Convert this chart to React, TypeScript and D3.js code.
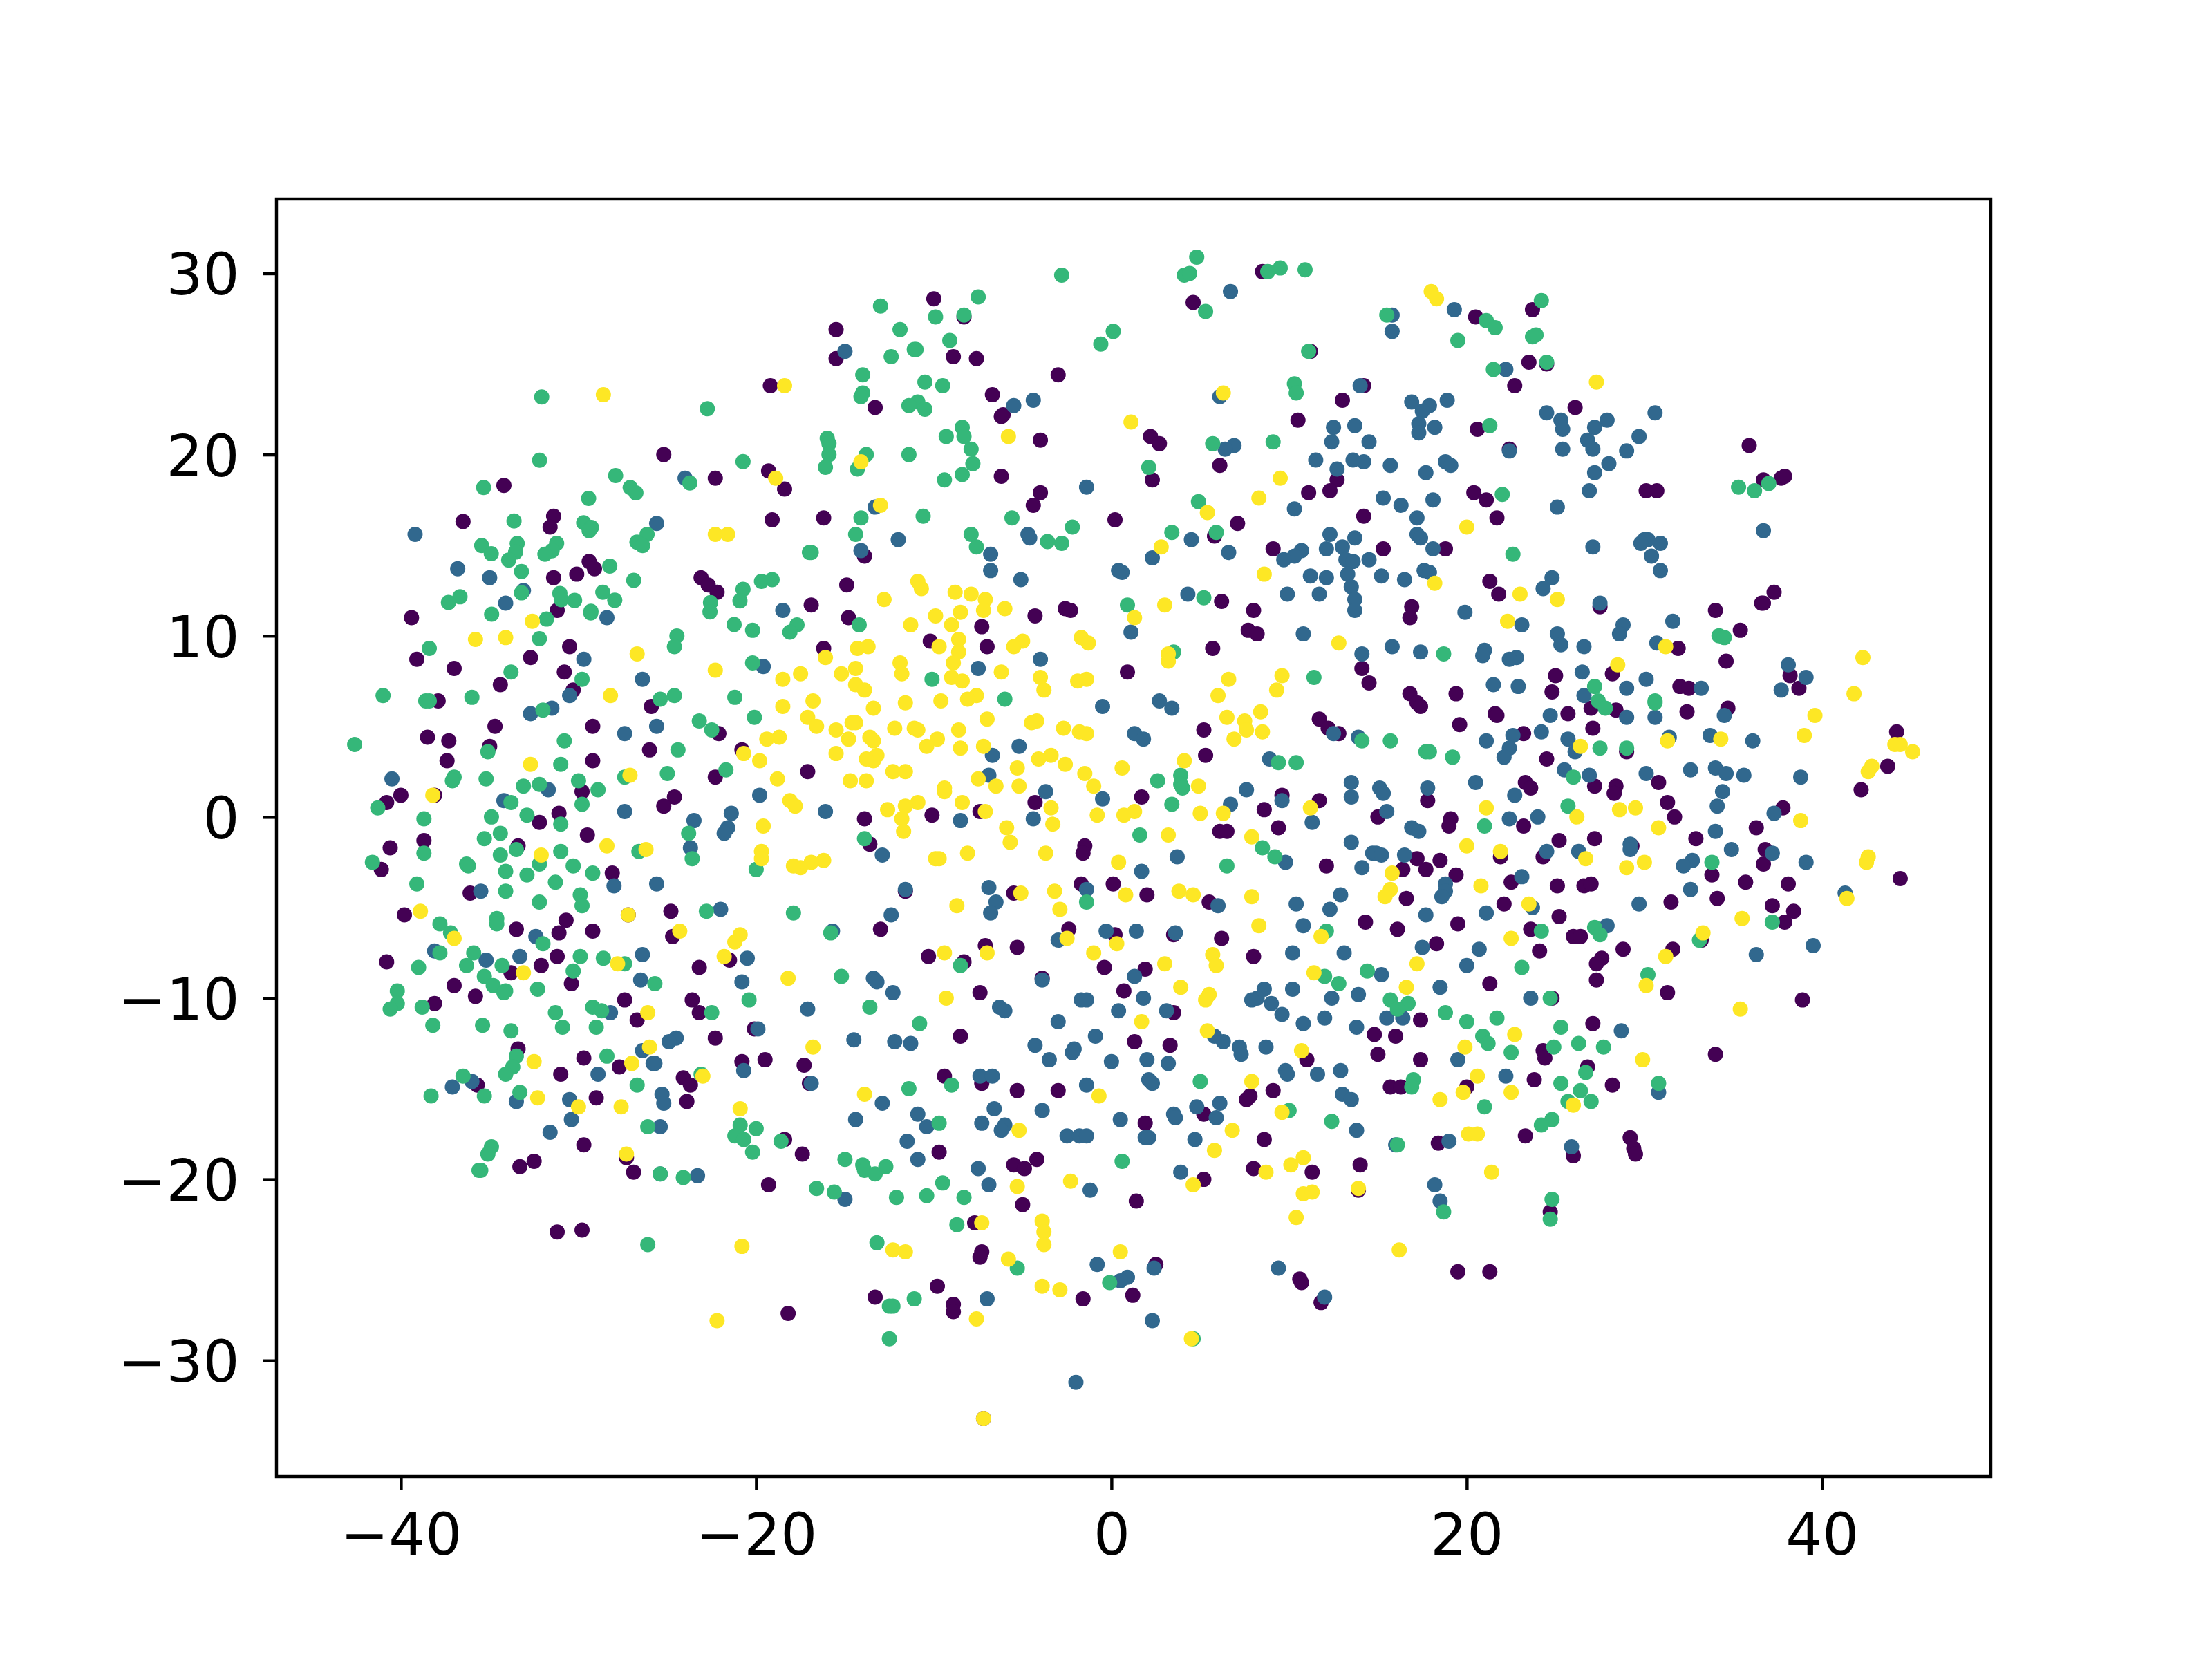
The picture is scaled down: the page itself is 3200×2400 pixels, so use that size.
import React, { useRef, useEffect } from "react";
import * as d3 from "d3";

// class 0 as [x, y]
const purplePoints = [
  [-34.2,18.3],[-25.2,20.0],[-22.3,18.7],[-36.5,16.3],[-31.4,16.6],[-31.6,16.0],[-29.4,14.1],[-29.1,13.7],[-31.4,13.2],[-30.1,13.4],[-23.1,13.2],[-22.7,12.8],[-22.2,12.4],[-31.2,11.4],[-39.4,11.0],
  [-10.0,28.6],[-8.3,27.6],[-15.5,26.9],[-15.5,25.3],[-8.9,25.4],[-7.6,25.3],[-19.2,23.8],[-3.0,24.4],[-13.3,22.6],[-6.7,23.3],[-6.2,22.1],[-6.1,22.2],[-4.0,20.8],[2.2,21.0],[2.7,20.6],[-19.3,19.1],[-18.4,18.1],[-6.2,18.8],[2.3,18.6],[-4.0,17.9],[-4.4,17.2],[-19.1,16.4],[-16.2,16.5],[0.2,16.4],[-13.9,14.4],[-14.9,12.8],[-16.9,11.7],[-14.8,11.0],[-7.3,10.5],[-4.3,11.1],[-2.6,11.5],[-2.3,11.4],[-10.2,9.7],
  [8.5,30.1],[4.6,28.4],[20.5,27.6],[23.7,28.0],[11.2,25.7],[23.5,25.1],[24.5,25.0],[22.7,23.8],[14.2,23.8],[13.0,23.0],[10.5,21.9],[20.6,21.4],[26.1,22.6],[22.4,20.3],[6.1,19.4],[12.7,18.6],[11.1,17.9],[12.3,18.0],[20.4,17.9],[21.1,17.5],[14.2,16.6],[21.7,16.5],[7.1,16.2],[5.8,15.5],[9.1,14.8],[15.3,14.8],[18.8,14.8],[21.3,13.0],[21.8,12.3],[6.2,11.9],[8.0,11.4],[16.9,11.6],[16.8,11.0],[7.7,10.3],[8.2,10.1],
  [35.9,20.5],[36.7,18.6],[37.7,18.7],[37.9,18.8],[30.1,18.0],[30.7,18.0],[37.3,12.4],[36.6,11.8],[36.7,11.8],[34.0,11.4],[27.5,11.6],[35.4,10.3],
  [-39.1,8.7],[-32.7,8.8],[-30.5,9.4],[-37.0,8.2],[-30.8,8.0],[-34.4,7.3],[-30.3,7.0],[-37.9,6.4],[-25.9,6.1],[-34.7,5.0],[-29.2,5.0],[-22.1,4.6],[-38.5,4.4],[-37.3,4.2],[-35.0,3.9],[-26.0,3.7],[-20.8,3.7],[-37.4,3.1],[-29.2,3.1],[-22.3,2.2],[-29.8,1.4],[-40.0,1.2],[-40.8,0.8],[-38.1,1.2],[-24.6,1.1],[-25.2,0.6],[-31.1,0.2],[-32.2,-0.3],[-29.5,-1.0],[-33.4,-1.6],[-38.7,-1.3],[-40.6,-1.7],[-41.1,-2.9],[-28.1,-3.1],[-36.1,-4.2],[-39.8,-5.4],[-24.8,-5.2],[-27.2,-5.4],[-30.7,-5.7],[-31.1,-6.4],[-33.5,-6.2],[-29.2,-6.3],[-24.7,-6.6],[-40.8,-8.0],[-31.2,-7.7],[-32.1,-8.2],[-33.8,-8.6],[-23.2,-8.3],[-21.5,-7.9],[-37.0,-9.3],[-30.4,-9.2],[-35.8,-9.9],[-38.1,-10.3],[-27.4,-10.1],[-23.6,-10.1],[-23.2,-10.8],[-26.7,-11.2],[-22.3,-12.2],[-33.4,-12.8],[-29.7,-13.3],
  [-16.2,9.3],[-7.0,9.4],[0.9,8.0],[-17.1,2.5],[1.7,1.1],[-4.3,0.8],[-10.1,0.1],[-7.4,0.3],[-13.9,-0.1],[-13.6,-1.5],[-1.5,-1.6],[-1.6,-2.0],[0.1,-3.7],[-1.7,-3.7],[2.0,-4.3],[-11.6,-4.1],[-5.5,-4.2],[-13.0,-6.2],[-2.4,-6.2],[0.2,-6.5],[-7.1,-7.1],[-5.3,-7.2],[-10.3,-7.7],[-8.3,-8.0],[-0.4,-8.3],[1.9,-8.4],[-3.9,-8.9],[-7.4,-9.7],[0.7,-9.6],[-20.1,-11.7],[-8.5,-12.1],[1.3,-12.4],
  [5.7,9.3],[14.1,8.2],[14.5,7.4],[19.4,6.8],[16.8,6.8],[17.2,6.3],[17.4,6.1],[25.0,7.8],[24.8,6.9],[21.6,5.7],[21.7,5.6],[25.7,5.7],[19.6,5.1],[5.2,4.8],[11.7,5.4],[12.2,4.9],[12.8,4.6],[23.2,4.6],[5.3,3.4],[24.5,3.2],[23.3,1.9],[23.6,1.6],[9.6,1.2],[11.7,0.9],[17.8,0.9],[8.6,0.4],[15.0,0.0],[19.1,-0.1],[19.0,-0.5],[9.4,-0.6],[6.1,-0.8],[6.5,-0.8],[23.2,-0.5],[25.2,-1.3],[24.3,-2.2],[21.9,-2.2],[12.1,-2.7],[17.2,-2.3],[18.5,-2.4],[16.4,-2.9],[17.7,-2.9],[19.4,-3.2],[22.5,-3.6],[25.1,-3.8],[16.6,-4.5],[5.5,-4.7],[22.1,-4.8],[25.2,-5.5],[19.5,-5.9],[14.3,-5.8],[16.1,-6.2],[23.6,-6.2],[26.0,-6.6],[3.5,-6.5],[6.2,-6.7],[18.3,-7.0],[24.1,-7.4],[8.0,-7.7],[21.3,-9.2],[24.8,-10.0],[3.5,-10.8],[17.4,-11.2],[14.8,-12.0],[16.0,-12.1],[3.3,-12.6],[24.3,-12.9],[15.0,-13.1],
  [31.9,9.3],[34.6,8.6],[28.2,7.9],[32.0,7.2],[32.5,7.1],[38.2,7.8],[38.7,7.1],[27.0,6.0],[28.4,5.9],[34.7,6.0],[32.4,5.8],[27.1,4.9],[29.0,3.6],[30.8,1.9],[27.2,1.7],[28.4,1.7],[28.3,1.3],[44.2,4.7],[43.7,2.8],[42.2,1.5],[31.3,0.8],[31.7,0.0],[37.8,0.5],[36.3,-0.6],[27.2,-1.2],[32.9,-1.2],[29.3,-1.6],[36.8,-1.8],[36.7,-2.6],[33.8,-3.2],[35.7,-3.6],[38.1,-3.7],[26.6,-3.8],[27.0,-3.7],[31.5,-4.7],[34.1,-4.5],[37.2,-4.9],[38.4,-5.2],[37.9,-5.8],[26.4,-6.6],[44.4,-3.4],[28.8,-7.3],[31.6,-7.3],[27.6,-7.8],[27.3,-8.1],[33.2,-6.8],[27.3,-9.0],[31.3,-9.7],[38.9,-10.1],[27.1,-11.4],[34.0,-13.1],
  [-31.0,-14.2],[-27.7,-13.8],[-35.7,-14.8],[-24.1,-14.4],[-23.7,-14.8],[-20.8,-13.5],[-29.0,-15.5],[-23.9,-15.7],[-29.7,-18.1],[-27.3,-18.8],[-26.9,-19.6],[-32.5,-19.0],[-33.3,-19.3],[-31.2,-22.9],[-29.8,-22.8],
  [-19.5,-13.4],[-17.3,-13.7],[-17.0,-14.7],[-9.4,-14.3],[-7.3,-14.7],[-5.3,-15.1],[-3.0,-15.1],[1.9,-16.9],[-18.4,-17.8],[-17.4,-18.6],[-9.7,-18.5],[-19.3,-20.3],[-5.5,-19.2],[-4.9,-19.4],[-4.2,-18.9],[-5.0,-21.4],[1.4,-21.2],[-7.7,-22.4],[-7.3,-24.0],[-7.4,-24.3],[-9.8,-25.9],[-13.3,-26.5],[-8.9,-26.9],[-8.9,-27.3],[-18.2,-27.4],[-1.6,-26.6],[1.2,-26.4],[2.5,-24.7],[-7.2,-33.2],
  [11.0,-13.4],[17.4,-13.4],[24.4,-13.3],[9.1,-15.1],[7.6,-15.6],[7.8,-15.4],[5.2,-16.4],[15.7,-14.9],[16.3,-14.9],[20.0,-14.9],[23.8,-14.5],[8.6,-17.8],[23.3,-17.6],[18.4,-18.0],[26.0,-18.7],[8.0,-19.4],[14.0,-19.2],[11.3,-19.6],[5.2,-20.0],[13.9,-20.6],[24.7,-21.8],[19.5,-25.1],[21.3,-25.1],[10.6,-25.5],[10.7,-25.7],[11.8,-26.8],
  [26.8,-13.8],[28.2,-14.8],[29.2,-17.7],[29.4,-18.3],[29.5,-18.6],
];

// class 1
const bluePoints = [
  [-39.2,15.6],[-24.0,18.7],[-25.6,16.2],[-36.8,13.7],[-35.0,13.2],[-33.1,12.5],[-34.1,11.8],[-28.4,11.0],
  [-15.0,25.7],[-5.5,22.7],[-4.4,23.0],[-1.4,18.2],[-13.3,17.1],[-12.0,15.3],[-14.1,14.7],[-6.8,14.5],[-6.8,13.6],[-5.1,13.1],[-4.7,15.6],[-4.6,15.4],[2.3,14.3],[0.4,13.6],[0.6,13.5],[-18.5,11.4],[1.1,10.2],
  [6.7,29.0],[15.8,27.7],[15.8,26.8],[19.3,28.0],[22.2,24.7],[6.1,23.2],[14.0,23.8],[16.9,22.9],[17.9,22.7],[18.9,23.0],[17.5,22.4],[17.3,21.7],[17.3,21.2],[18.2,21.5],[12.5,21.5],[13.7,21.6],[12.4,20.7],[14.5,20.7],[24.5,22.3],[25.3,21.9],[25.4,21.4],[25.4,20.3],[22.4,20.2],[6.9,20.5],[6.4,20.3],[11.5,19.7],[13.6,19.7],[14.2,19.6],[12.7,19.2],[15.7,19.4],[18.8,19.6],[19.1,19.4],[17.7,19.0],[15.3,17.6],[16.3,17.2],[18.1,17.5],[10.3,17.0],[25.1,17.1],[17.2,16.5],[17.2,15.6],[17.4,15.4],[12.3,15.6],[13.7,15.4],[4.5,15.3],[12.1,14.8],[13.0,14.9],[10.7,14.7],[10.3,14.4],[9.7,14.2],[18.1,14.8],[6.6,14.6],[13.2,14.2],[13.6,14.1],[14.5,14.2],[13.3,13.4],[11.2,13.3],[12.1,13.2],[15.2,13.3],[16.5,13.1],[17.6,13.6],[17.9,13.5],[24.8,13.2],[24.3,12.6],[13.5,12.7],[11.7,12.3],[9.9,12.3],[4.3,12.3],[13.7,12.0],[13.7,11.4],[19.9,11.3],[23.1,10.6],[25.1,10.1],[10.8,10.1],
  [30.6,22.3],[27.9,21.9],[27.2,21.5],[26.8,20.8],[27.1,20.3],[29.7,21.0],[29.0,20.2],[28.0,19.5],[27.2,19.0],[26.9,18.0],[36.7,15.8],[30.0,15.3],[30.2,15.3],[29.8,15.1],[30.9,15.1],[27.1,14.9],[30.4,14.4],[30.9,13.6],[27.5,11.8],[28.8,10.6],[28.6,10.1],[31.6,10.8],[30.7,9.6],
  [-29.7,8.7],[-26.4,7.6],[-31.5,6.0],[-32.7,5.7],[-30.5,6.7],[-27.4,4.6],[-25.6,5.0],[-40.5,2.1],[-31.7,1.5],[-34.2,0.9],[-27.4,0.3],[-21.4,0.2],[-23.5,-0.2],[-21.6,-0.6],[-21.8,-0.9],[-23.7,-1.7],[-25.6,-3.7],[-28.0,-3.8],[-35.5,-4.1],[-22.0,-5.1],[-32.4,-6.6],[-38.1,-7.4],[-26.4,-7.6],[-33.3,-7.7],[-35.2,-7.9],[-26.5,-9.0],[-20.8,-9.1],[-28.2,-10.8],[-24.5,-12.2],[-24.9,-12.4],[-26.4,-12.9],
  [-19.6,8.3],[-4.0,8.7],[-7.5,8.2],[-0.5,6.1],[2.7,6.4],[1.3,4.6],[1.8,4.3],[-5.2,3.9],[-6.7,3.4],[-6.9,2.3],[-19.8,1.2],[-3.7,1.4],[-0.5,1.0],[-16.1,0.3],[-8.5,-0.2],[-4.4,-0.1],[-12.9,-2.1],[1.7,-3.0],[-11.6,-4.0],[-6.9,-3.9],[-6.5,-4.7],[-6.8,-5.3],[-1.4,-4.0],[-12.4,-5.4],[-0.3,-6.3],[1.4,-6.3],[-3.0,-6.8],[-15.7,-6.3],[-20.5,-7.8],[-13.4,-8.9],[-13.2,-9.1],[1.3,-8.8],[-12.3,-9.7],[-3.9,-9.0],[-1.7,-10.1],[-1.4,-10.1],[1.8,-10.0],[-6.3,-10.5],[-6.0,-10.7],[0.4,-10.7],[-17.1,-10.6],[-3.0,-11.3],[-19.9,-11.7],[-0.9,-12.1],[-14.5,-12.3],[-12.2,-12.4],[-11.3,-12.5],[-4.3,-12.6],[-2.1,-12.8],[-2.2,-13.0],
  [15.8,9.4],[14.1,9.0],[17.4,9.1],[21.0,9.2],[20.9,8.9],[22.8,8.8],[22.4,8.7],[25.3,9.5],[21.5,7.3],[22.9,7.2],[24.7,5.6],[3.4,6.0],[24.2,4.7],[22.6,4.5],[12.5,4.6],[13.9,4.4],[21.1,4.2],[25.7,4.3],[22.4,3.8],[22.1,3.3],[8.9,3.2],[25.5,2.6],[13.5,1.9],[15.1,1.6],[15.3,1.3],[17.8,1.6],[20.5,1.9],[7.6,1.5],[13.5,1.1],[22.7,1.2],[9.6,0.9],[6.7,0.7],[15.5,0.3],[11.3,-0.3],[22.4,-0.1],[24.0,0.0],[16.9,-0.6],[17.3,-0.8],[13.5,-1.4],[14.7,-2.0],[14.9,-2.0],[15.2,-2.1],[16.5,-2.1],[24.5,-1.9],[3.7,-2.2],[9.8,-2.5],[14.1,-2.8],[23.1,-3.3],[18.8,-3.7],[18.8,-4.1],[18.6,-4.4],[12.9,-4.3],[10.4,-4.8],[12.3,-5.1],[6.0,-4.9],[23.7,-5.0],[21.1,-5.3],[17.7,-5.4],[10.8,-6.0],[3.6,-6.4],[17.5,-7.2],[10.2,-7.5],[13.1,-7.5],[20.7,-7.3],[20.0,-8.2],[15.2,-8.7],[8.6,-9.5],[10.2,-9.5],[8.2,-10.0],[7.9,-10.1],[9.0,-10.3],[12.4,-10.0],[13.9,-9.8],[18.5,-9.4],[23.6,-10.0],[3.1,-10.7],[9.6,-10.9],[12.0,-11.1],[10.8,-11.4],[15.5,-11.1],[16.4,-11.1],[13.8,-11.6],[5.8,-12.1],[6.3,-12.4],[7.2,-12.7],[8.7,-12.7],[7.3,-13.1],
  [26.6,9.4],[26.5,8.0],[30.1,7.6],[29.0,7.1],[33.2,7.1],[38.1,8.4],[39.1,7.7],[37.7,7.0],[26.6,6.7],[29.0,5.5],[30.6,5.5],[34.5,5.6],[31.4,4.4],[33.7,4.5],[36.1,4.2],[32.6,2.6],[34.0,2.7],[34.6,2.4],[35.6,2.3],[38.8,2.2],[30.1,2.4],[26.9,2.3],[34.4,1.4],[34.1,0.6],[37.3,0.2],[34.0,-0.8],[34.9,-1.8],[37.2,-2.0],[29.2,-1.5],[29.2,-1.8],[26.3,-1.9],[39.1,-2.5],[32.7,-2.4],[32.2,-2.7],[32.6,-4.0],[29.7,-4.8],[41.3,-4.2],[27.9,-6.0],[36.3,-7.6],[39.5,-7.1],[28.7,-11.8],[26.1,3.6],
  [-25.8,-13.6],[-25.7,-13.6],[-36.0,-14.6],[-37.1,-14.9],[-28.9,-14.2],[-20.7,-14.0],[-33.5,-15.7],[-30.5,-15.6],[-25.3,-15.3],[-25.2,-15.8],[-30.4,-16.7],[-31.6,-17.4],[-25.4,-17.1],[-25.4,-19.7],[-23.3,-19.8],
  [-3.5,-13.4],[0.0,-13.5],[2.0,-13.4],[-7.4,-14.3],[-6.7,-14.3],[-16.9,-14.7],[-1.4,-14.8],[2.1,-14.5],[2.3,-14.7],[-12.9,-15.8],[-6.6,-16.1],[-3.9,-16.2],[-10.9,-16.4],[-14.4,-16.7],[-7.3,-16.9],[-10.4,-17.1],[-6.0,-17.0],[-6.2,-17.3],[0.5,-16.7],[-2.5,-17.6],[-1.8,-17.6],[-1.4,-17.6],[1.9,-17.7],[2.1,-17.7],[-11.5,-17.9],[-10.9,-18.9],[-7.5,-19.4],[-6.9,-20.3],[-1.2,-20.6],[-15.0,-21.1],[-0.8,-24.7],[2.4,-24.9],[0.9,-25.4],[0.5,-25.6],[-7.0,-26.6],[2.3,-27.8],[-2.0,-31.2],
  [3.2,-13.6],[9.8,-14.0],[9.9,-14.2],[11.6,-14.2],[12.9,-14.0],[19.5,-13.4],[22.2,-14.3],[13.0,-15.3],[13.5,-15.6],[4.8,-16.0],[6.1,-15.8],[3.5,-16.4],[3.6,-16.6],[5.9,-16.6],[13.8,-17.3],[4.7,-17.8],[16.0,-18.1],[19.0,-17.9],[25.9,-18.2],[3.9,-19.6],[18.2,-20.3],[18.5,-21.2],[9.4,-24.9],[12.0,-26.5],
  [30.8,-15.2],
];

// class 2
const greenPoints = [
  [-32.07,23.18],[-22.75,22.53],[-32.19,19.69],[-20.74,19.61],[-27.91,18.84],[-27.09,18.18],[-26.77,17.89],[-23.73,18.43],[-35.34,18.18],[-29.43,17.58],[-33.63,16.33],[-29.71,16.24],[-29.27,15.98],[-29.4,15.8],[-35.45,14.98],[-34.91,14.53],[-33.45,15.09],[-33.54,14.62],[-33.93,14.18],[-31.23,15.1],[-31.49,14.69],[-31.89,14.5],[-26.14,15.6],[-26.71,15.17],[-26.39,14.98],[-33.21,13.55],[-28.24,13.84],[-26.89,13.06],[-20.74,12.56],[-33.21,12.37],[-31.05,12.34],[-30.97,11.99],[-30.22,11.95],[-28.63,12.4],[-27.96,11.96],[-20.91,11.93],[-22.57,11.83],[-22.6,11.32],[-36.67,12.15],[-37.32,11.84],[-34.89,11.19],[-31.8,10.92],[-29.3,11.35],[-29.31,11.26],[-21.24,10.62],[-24.46,9.99],[-32.2,9.84],
  [-2.8,29.9],[-13.0,28.2],[-7.5,28.7],[-9.9,27.6],[-8.3,27.7],[-11.9,26.9],[-9.1,26.3],[0.1,26.8],[-0.6,26.1],[-12.4,25.4],[-11.1,25.8],[-11.0,25.8],[-14.0,24.4],[-10.5,24.0],[-9.5,23.8],[-14.0,23.4],[-14.1,23.2],[-10.9,22.9],[-11.4,22.7],[-10.5,22.5],[-8.4,21.5],[-9.3,21.0],[-8.3,21.0],[-16.0,20.9],[-15.9,20.6],[-15.9,20.0],[-13.8,20.0],[-11.4,20.0],[-7.9,20.3],[-7.8,19.5],[-16.1,19.3],[-14.3,19.2],[-8.4,18.9],[-9.4,18.6],[2.1,19.3],[-5.6,16.5],[-14.1,16.5],[-10.6,16.6],[-14.4,15.6],[-7.9,15.6],[-7.6,14.9],[-2.2,16.0],[-3.6,15.2],[-2.8,15.1],[-17.0,14.6],[-16.9,14.6],[-19.7,13.0],[-19.1,13.1],[0.9,11.7],[-17.7,10.6],[-18.1,10.2],[-14.2,10.6],[-20.2,10.3],
  [4.8,30.9],[4.1,29.9],[4.4,30.0],[5.3,27.9],[8.8,30.1],[9.5,30.3],[10.9,30.2],[15.5,27.7],[21.1,27.4],[21.6,27.0],[24.2,28.5],[19.5,26.3],[23.7,26.5],[23.9,26.6],[11.1,25.7],[21.5,24.7],[24.5,25.1],[10.3,23.9],[10.4,23.4],[21.3,21.6],[5.7,20.6],[9.1,20.7],[22.0,17.8],[4.9,17.4],[5.9,15.7],[3.4,15.7],[22.6,14.5],[5.2,12.1],
  [35.3,18.2],[36.2,18.0],[37.0,18.4],[34.2,10.0],[34.5,9.9],
  [-38.4,9.3],[-33.8,8.0],[-24.6,9.4],[-29.8,7.6],[-41.0,6.7],[-38.6,6.4],[-38.4,6.4],[-36.0,6.6],[-25.4,6.5],[-24.6,6.7],[-21.2,6.6],[-32.0,5.9],[-23.2,5.3],[-22.5,4.8],[-30.8,4.2],[-42.6,4.0],[-24.4,3.7],[-35.1,3.6],[-31.0,2.9],[-21.7,2.6],[-25.0,2.4],[-37.0,2.2],[-37.1,2.0],[-35.2,2.1],[-30.0,2.0],[-33.1,1.7],[-32.2,1.8],[-27.4,2.2],[-28.9,1.5],[-29.8,0.7],[-33.8,0.8],[-41.3,0.5],[-38.7,-0.1],[-34.9,0.0],[-32.9,0.1],[-31.0,-0.4],[-34.4,-0.9],[-35.3,-1.2],[-23.8,-0.9],[-38.7,-2.0],[-31.0,-1.9],[-33.5,-1.8],[-34.4,-2.1],[-26.6,-1.9],[-23.6,-2.3],[-41.6,-2.5],[-36.3,-2.6],[-36.2,-2.7],[-30.3,-2.7],[-32.2,-2.6],[-34.1,-3.0],[-32.9,-3.2],[-29.2,-3.1],[-31.3,-3.6],[-39.1,-3.7],[-34.1,-4.1],[-29.9,-4.3],[-29.8,-4.9],[-32.2,-4.7],[-22.8,-5.2],[-34.6,-5.6],[-34.6,-5.9],[-37.8,-5.9],[-37.2,-6.4],[-37.8,-7.5],[-32.0,-7.0],[-35.9,-7.5],[-29.9,-7.7],[-28.6,-7.8],[-27.4,-8.1],[-36.3,-8.2],[-34.3,-8.2],[-39.0,-8.3],[-30.3,-8.5],[-35.3,-8.8],[-34.8,-9.3],[-34.1,-9.6],[-34.2,-9.7],[-32.3,-9.5],[-25.7,-9.2],[-40.2,-9.6],[-40.2,-10.3],[-40.6,-10.6],[-38.8,-10.5],[-31.3,-10.8],[-29.2,-10.5],[-28.7,-10.7],[-22.5,-10.8],[-30.9,-11.6],[-29.0,-11.6],[-38.2,-11.5],[-35.4,-11.5],[-33.8,-11.8],[-33.5,-13.2],[-28.4,-13.2],
  [-20.2,8.5],[-10.1,7.6],[-6.0,6.5],[-20.1,5.5],[2.6,2.0],[1.6,-1.0],[-13.9,-1.2],[-20.0,-2.9],[-17.9,-5.3],[-1.4,-4.7],[-15.8,-6.4],[-8.5,-8.2],[-15.2,-8.8],[-20.4,-10.1],[-13.6,-10.5],[-10.8,-11.4],
  [3.5,9.1],[18.7,9.0],[11.4,7.7],[14.1,4.2],[15.7,4.2],[19.2,3.3],[17.7,3.6],[17.9,3.6],[9.4,3.0],[10.4,3.0],[3.9,2.3],[3.9,1.8],[4.0,1.6],[3.4,0.7],[21.0,-0.5],[25.7,0.6],[26.0,2.2],[8.5,-1.7],[9.2,-2.2],[6.5,-2.7],[12.1,-6.3],[24.2,-6.3],[12.0,-8.8],[14.4,-8.5],[12.8,-9.2],[23.1,-8.3],[15.7,-10.1],[16.7,-10.3],[16.1,-10.6],[18.8,-10.8],[20.0,-11.3],[21.7,-11.1],[24.7,-10.0],[25.3,-11.6],[20.9,-12.1],[21.2,-12.5],[24.9,-12.7],[22.5,-13.0],
  [27.2,7.2],[27.4,6.4],[27.8,6.0],[30.6,6.4],[30.6,6.3],[27.5,3.8],[29.0,3.8],[33.8,-2.5],[37.2,-5.8],[27.2,-6.1],[27.5,-6.5],[33.1,-6.8],[30.2,-8.7],[26.3,-12.5],[27.7,-12.7],
  [-33.7,-13.8],[-34.1,-14.2],[-36.5,-14.3],[-23.1,-14.2],[-26.7,-14.8],[-38.3,-15.4],[-35.3,-15.4],[-33.3,-15.2],[-26.1,-17.1],[-20.9,-17.0],[-21.2,-17.6],[-20.7,-17.8],[-34.9,-18.2],[-35.1,-18.6],[-35.6,-19.5],[-35.5,-19.5],[-25.4,-19.7],[-24.1,-19.9],[-26.1,-23.6],
  [-11.4,-15.0],[-9.0,-14.8],[-20.0,-17.2],[-9.7,-16.9],[-18.6,-17.9],[-20.2,-18.5],[-15.0,-18.9],[-14.0,-19.2],[-13.9,-19.5],[-13.3,-19.7],[-12.7,-19.3],[0.6,-19.0],[-9.5,-20.2],[-16.6,-20.5],[-15.6,-20.7],[-12.1,-21.0],[-10.4,-20.9],[-8.3,-21.0],[-8.7,-22.5],[-13.2,-23.5],[-5.3,-24.9],[-0.1,-25.7],[-11.1,-26.6],[-12.5,-27.0],[-12.3,-27.0],[-12.5,-28.8],
  [5.0,-14.6],[17.0,-14.5],[16.9,-14.9],[25.3,-14.7],[21.0,-16.0],[10.0,-16.2],[25.7,-15.7],[12.4,-16.8],[24.8,-16.7],[24.2,-17.0],[16.1,-18.1],[18.7,-21.8],[24.8,-21.1],[24.7,-22.2],[4.6,-28.8],
  [26.7,-14.1],[26.4,-15.1],[27.0,-15.7],[30.8,-14.7],
];

// class 3
const yellowPoints = [
  [-28.6,23.3],[-22.3,15.6],[-21.6,15.6],[-32.6,10.8],[-35.8,9.8],[-34.1,9.9],
  [-18.4,23.8],[-5.8,21.0],[1.1,21.8],[-14.1,19.6],[-18.9,18.7],[-13.0,17.2],[2.8,14.9],[-10.9,13.0],[-10.7,12.6],[-8.8,12.4],[-7.9,12.3],[-7.1,12.0],[-7.2,11.4],[-6.0,11.5],[-12.8,12.0],[-8.5,11.3],[-9.9,11.1],[-11.3,10.6],[-9.0,10.6],[1.3,11.0],[-1.7,9.9],[-1.3,9.6],[-5.0,9.7],[-8.6,9.8],
  [18.0,29.0],[18.3,28.6],[6.3,23.4],[9.5,18.7],[8.3,17.6],[5.4,16.8],[20.0,16.0],[8.6,13.4],[18.2,12.9],[23.0,12.3],[25.1,12.0],[3.0,11.7],[22.3,10.8],[12.8,9.6],
  [27.3,24.0],
  [-26.7,9.0],[-22.3,8.1],[-28.2,6.7],[-32.7,2.9],[-27.1,2.3],[-38.2,1.2],[-20.7,3.5],[-28.4,-1.6],[-26.2,-1.8],[-32.1,-2.1],[-38.9,-5.2],[-27.2,-5.4],[-24.3,-6.3],[-37.0,-6.7],[-20.9,-6.5],[-21.2,-6.9],[-21.8,-7.7],[-27.8,-8.1],[-33.1,-8.6],[-26.1,-10.8],[-26.0,-12.7],
  [-9.7,9.4],[-5.5,9.4],[-14.3,9.3],[-13.7,9.4],[-16.1,8.8],[-14.4,8.2],[-15.2,7.9],[-17.5,7.9],[-18.5,7.6],[-11.9,8.5],[-11.8,7.9],[-8.6,9.1],[-8.9,8.5],[-9.0,7.7],[-8.4,7.5],[-6.2,8.0],[-4.0,7.7],[-3.8,7.0],[-1.9,7.5],[-1.4,7.6],[-14.4,7.3],[-13.9,7.0],[-7.6,6.7],[-8.1,6.5],[-9.6,6.4],[-11.6,6.3],[-16.8,6.4],[-18.5,6.1],[-13.4,6.0],[-17.1,5.5],[-16.6,5.0],[-7.0,5.4],[-4.2,5.3],[-4.5,5.2],[-2.7,4.9],[-1.8,4.7],[-1.4,4.6],[-14.4,5.2],[-14.6,5.2],[-15.5,4.8],[-12.2,4.9],[-11.1,4.9],[-10.9,4.8],[-8.6,4.8],[-18.7,4.4],[-19.4,4.3],[-14.8,4.3],[-13.6,4.4],[-13.4,4.2],[-9.8,4.3],[-10.4,3.9],[-8.5,3.8],[-7.2,3.9],[-15.5,3.5],[-13.2,3.4],[-13.4,3.1],[-13.8,3.2],[-19.8,3.1],[-3.4,3.4],[-4.1,3.2],[-2.6,2.9],[-5.3,2.7],[0.6,2.7],[-12.3,2.5],[-11.6,2.5],[-18.8,2.1],[-7.5,2.1],[-14.7,2.0],[-13.8,2.0],[-1.5,2.4],[-6.5,1.7],[-5.2,1.7],[-1.0,1.7],[-9.4,1.6],[-9.4,1.4],[-18.1,0.9],[-17.8,0.6],[-10.9,0.8],[-11.6,0.6],[-8.4,0.8],[-12.6,0.4],[-3.4,0.5],[1.3,0.3],[0.7,0.1],[-0.8,0.1],[-7.1,0.3],[-11.8,-0.1],[-3.3,-0.4],[-19.6,-0.5],[-5.9,-0.6],[-11.7,-0.8],[-5.7,-1.4],[-19.7,-1.9],[-19.7,-2.3],[-8.1,-2.0],[-3.7,-2.0],[-9.9,-2.3],[-9.7,-2.3],[-16.2,-2.4],[-16.9,-2.5],[-17.5,-2.8],[-17.9,-2.7],[0.4,-2.5],[-5.1,-4.2],[-3.2,-4.1],[0.8,-4.3],[-8.7,-4.9],[-2.9,-5.1],[0.3,-7.0],[-2.5,-6.7],[-9.4,-7.5],[-7.0,-7.5],[-1.0,-7.5],[-18.2,-8.9],[-9.3,-10.0],[1.7,-11.3],[-16.8,-12.7],
  [3.2,9.0],[3.2,8.6],[6.6,7.6],[6.0,6.7],[9.6,7.8],[9.3,7.0],[6.5,5.5],[7.5,5.3],[7.6,4.8],[8.4,5.8],[8.5,4.7],[6.9,4.3],[4.1,3.1],[4.9,1.7],[5.0,0.2],[6.3,0.2],[11.2,0.5],[21.1,0.5],[3.2,-1.0],[7.9,-1.1],[20.0,-1.6],[21.9,-1.9],[15.8,-3.1],[15.7,-4.0],[15.4,-4.4],[20.8,-3.8],[3.8,-4.1],[4.6,-4.3],[7.9,-4.4],[23.5,-4.8],[8.3,-6.0],[11.8,-6.6],[22.5,-6.7],[5.7,-7.6],[5.9,-8.2],[3.0,-8.1],[17.2,-8.1],[11.4,-8.6],[3.9,-9.4],[5.5,-9.8],[5.3,-10.1],[16.6,-9.4],[5.4,-11.8],[22.7,-12.0],[19.9,-12.7],[10.7,-12.9],
  [28.5,8.4],[31.2,9.4],[42.3,8.8],[41.8,6.8],[39.6,5.6],[39.0,4.5],[44.1,4.0],[44.4,4.0],[45.1,3.6],[31.3,4.2],[34.3,4.3],[26.4,3.9],[42.8,2.8],[42.6,2.5],[28.6,0.4],[29.5,0.5],[26.2,0.0],[38.8,-0.2],[30.8,-0.6],[26.7,-2.3],[30.0,-2.5],[29.0,-2.8],[42.6,-2.2],[42.5,-2.5],[41.4,-4.5],[35.5,-5.6],[33.3,-6.4],[31.2,-7.7],[30.1,-9.3],[35.4,-10.6],[29.9,-13.4],
  [-32.5,-13.5],[-27.0,-13.6],[-32.3,-15.5],[-30.0,-16.0],[-27.6,-16.0],[-23.0,-14.3],[-27.3,-18.6],[-20.9,-16.1],[-20.8,-23.7],[-22.2,-27.8],
  [-13.9,-15.3],[-0.7,-15.4],[-5.2,-17.3],[-2.3,-20.1],[-5.3,-20.4],[-7.3,-22.4],[-3.9,-22.3],[-3.8,-22.9],[-3.8,-23.6],[-12.3,-23.9],[-11.6,-24.0],[0.5,-24.0],[-5.8,-24.4],[-3.9,-25.9],[-2.9,-26.1],[-7.6,-27.7],[-7.2,-33.2],
  [7.9,-14.6],[20.6,-14.3],[22.5,-15.2],[18.5,-15.6],[19.8,-15.2],[9.6,-16.3],[26.0,-15.9],[6.8,-17.3],[20.1,-17.5],[20.6,-17.5],[5.8,-18.4],[10.8,-18.8],[10.1,-19.2],[8.7,-19.6],[21.4,-19.6],[4.6,-20.3],[10.8,-20.8],[11.3,-20.7],[13.9,-20.5],[10.4,-22.1],[16.2,-23.9],[4.5,-28.8],
];

const seriesList = [purplePoints, bluePoints, greenPoints, yellowPoints];
const seriesColors = ["#440154", "#31688e", "#35b779", "#fde725"];
const xTicks = [-40, -20, 0, 20, 40];
const yTicks = [-30, -20, -10, 0, 10, 20, 30];

const App = () => {
  const svgRef = useRef<SVGSVGElement>(null);

  useEffect(() => {
    const margin = { top: 288, right: 320, bottom: 264, left: 400 };
    const width = 3200 - margin.left - margin.right;
    const height = 2400 - margin.top - margin.bottom;

    const svg = d3
      .select(svgRef.current)
      .attr("width", 3200)
      .attr("height", 2400)
      .append("g")
      .attr("transform", `translate(${margin.left},${margin.top})`);

    const xScale = d3.scaleLinear().domain([-47, 49.5]).range([0, width]);
    const yScale = d3.scaleLinear().domain([-36.4, 34.1]).range([height, 0]);

    // marks go class by class, the overlaps in the picture follow that order
    seriesList.forEach((points, i) => {
      svg
        .append("g")
        .selectAll("circle")
        .data(points)
        .enter()
        .append("circle")
        .attr("cx", (d) => xScale(d[0]))
        .attr("cy", (d) => yScale(d[1]))
        .attr("r", 11)
        .attr("fill", seriesColors[i]);
    });

    const xAxis = svg
      .append("g")
      .attr("transform", `translate(0, ${height})`)
      .call(d3.axisBottom(xScale).tickValues(xTicks).tickSize(19.4).tickPadding(33).tickFormat(d3.format("d")));
    const yAxis = svg
      .append("g")
      .call(d3.axisLeft(yScale).tickValues(yTicks).tickSize(19.4).tickPadding(34).tickFormat(d3.format("d")));

    [xAxis, yAxis].forEach((axis) => {
      axis.select(".domain").remove();
      axis.selectAll("line").attr("stroke", "black").attr("stroke-width", 4.44);
      axis
        .selectAll("text")
        .attr("fill", "black")
        .style("font-family", "'DejaVu Sans'")
        .style("font-size", "83.3px");
    });
    // digit heights, so labels sit the way they do in the picture
    xAxis.selectAll("text").attr("dy", "0.729em");
    yAxis.selectAll("text").attr("dy", "0.365em");

    svg
      .append("rect")
      .attr("width", width)
      .attr("height", height)
      .attr("fill", "none")
      .attr("stroke", "black")
      .attr("stroke-width", 4.44);

    return () => {
      svg.remove();
    };
  }, []);

  return <svg ref={svgRef} style={{ position: "absolute", left: 0, top: 0, background: "white" }}></svg>;
};

export default App;
